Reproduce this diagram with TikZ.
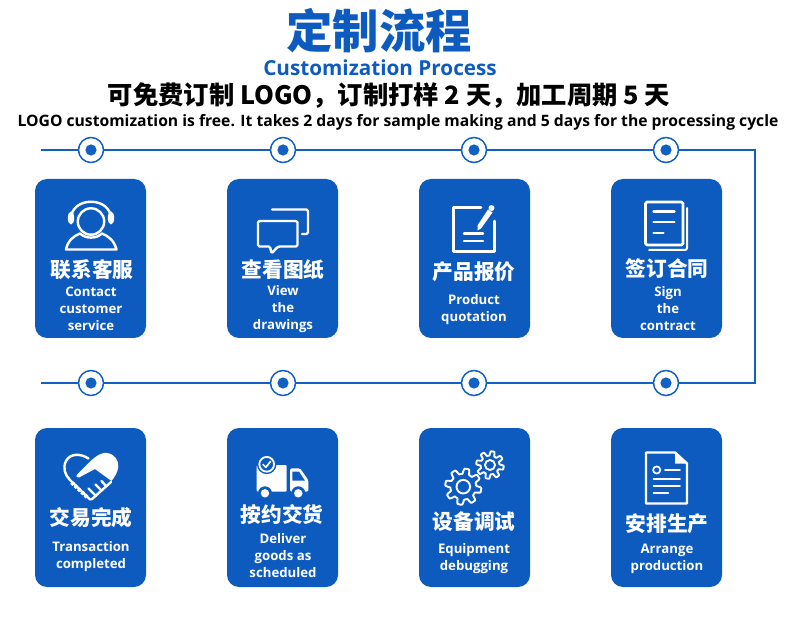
\documentclass[tikz,border=0pt]{standalone}
\usepackage{fontspec}
\setmainfont{Open Sans}
\newfontfamily\cjk{Noto Sans CJK SC}
\definecolor{cardblue}{HTML}{0E5BC0}
\definecolor{lineblue}{HTML}{1160C4}
\tikzset{
  target/.style={circle,draw=lineblue,fill=white,line width=1.5pt,minimum size=25pt,inner sep=0pt,
    path picture={\fill[lineblue] (path picture bounding box.center) circle (5.6pt);}},
  card/.style={fill=cardblue,rounded corners=12pt},
  cardcn/.style={white,font=\cjk\bfseries\fontsize{20.7}{21}\selectfont,inner sep=0pt},
  carden/.style={white,font=\bfseries\fontsize{13.2}{17}\selectfont,align=center,inner sep=0pt},
  icon/.style={draw=white,line width=2.4pt,line cap=round,line join=round},
}
% cog outline: centre x, centre y, mean radius, tooth height
\newcommand{\cogicon}[4]{
  \draw[icon,line width=1.9pt,domain=0:360,samples=161] plot
    ({#1+(#3+#4*max(-1,min(1,2.2*sin(8*\x))))*cos(\x)},{#2+(#3+#4*max(-1,min(1,2.2*sin(8*\x))))*sin(\x)}) -- cycle;
}
\begin{document}
\begin{tikzpicture}[x=1pt,y=-1pt]
  \useasboundingbox (0,0) rectangle (790,628);

  % headings
  \node[inner sep=0pt,text=cardblue,font=\cjk\bfseries\fontsize{46.3}{46}\selectfont] (title) at (379,31) {定制流程};
  \node[inner sep=0pt,text=cardblue,font=\bfseries\fontsize{20.7}{21}\selectfont] (subtitle) at (380,68) {Customization Process};
  \node[inner sep=0pt,font=\cjk\bfseries\fontsize{25.3}{25}\selectfont] (terms) at (389,96) {可免费订制 LOGO，订制打样 2 天，加工周期 5 天};
  \node[inner sep=0pt,font=\bfseries\fontsize{15.7}{16}\selectfont] (termsen) at (398,122) {LOGO customization is free. It takes 2 days for sample making and 5 days for the processing cycle};

  % timeline
  \coordinate (start) at (41,150);
  \coordinate (cornera) at (755,150);
  \coordinate (cornerb) at (755,383);
  \coordinate (stop) at (41,383);
  \foreach \n/\x in {a/91,b/283,c/474,d/666}{
    \node[target] (top\n) at (\x,150) {};
    \node[target] (bot\n) at (\x,383) {};
  }
  \draw[lineblue,line width=2pt] (start) -- (topa) -- (topb) -- (topc) -- (topd) -- (cornera)
    -- (cornerb) -- (botd) -- (botc) -- (botb) -- (bota) -- (stop);

  % cards
  \foreach \x in {35,227,419,611}{
    \fill[card] (\x,179) rectangle ++(111,159);
    \fill[card] (\x,428) rectangle ++(111,159);
  }

  % card texts
  \node[cardcn] (cna) at (92,270) {联系客服};
  \node[carden] (ena) at (91,308.5) {Contact\\customer\\service};
  \node[cardcn] (cnb) at (283,270) {查看图纸};
  \node[carden] (enb) at (283,309.5) {View\\the\\drawings};
  \node[cardcn] (cnc) at (474,272) {产品报价};
  \node[carden] (enc) at (474,309.5) {Product\\quotation};
  \node[cardcn] (cnd) at (667,269) {签订合同};
  \node[carden] (end) at (668,308.5) {Sign\\the\\contract};
  \node[cardcn] (cne) at (91,518) {交易完成};
  \node[carden] (ene) at (91,556.5) {Transaction\\completed};
  \node[cardcn] (cnf) at (282,515) {按约交货};
  \node[carden] (enf) at (283,555.5) {Deliver\\goods as\\scheduled};
  \node[cardcn] (cng) at (474,522) {设备调试};
  \node[carden] (eng) at (474,558.5) {Equipment\\debugging};
  \node[cardcn] (cnh) at (667,524) {安排生产};
  \node[carden] (enh) at (667,558.5) {Arrange\\production};

  % person
  \draw[icon] (91,221.5) circle (13.2);
  \draw[icon] (71,219) .. controls (71,196) and (111,196) .. (111,219);
  \fill[white] (71,218) ellipse (3.2 and 6.5);
  \fill[white] (111,218) ellipse (3.2 and 6.5);
  \draw[icon] (66,249.5) .. controls (68,240) and (74,236) .. (80,233.5)
    .. controls (86,239) and (96,239) .. (102,233.5)
    .. controls (108,236) and (114,240) .. (116.5,249.5) -- cycle;

  % speech bubbles
  \draw[icon,rounded corners=1.5pt] (258,221) -- (297.5,221) -- (297.5,246.5) -- (278,246.5) -- (271.5,253.5)
    -- (270,246.5) -- (258,246.5) -- cycle;
  \draw[icon,rounded corners=1.5pt] (272,209.5) -- (308,209.5) -- (308,234) -- (302,234);

  % quotation sheet
  \draw[icon,line width=2.6pt] (481,207.5) -- (453.5,207.5) -- (453.5,251.5) -- (494.5,251.5) -- (494.5,221);
  \draw[icon] (464,233.5) -- (483,233.5) (464,241) -- (483,241);
  \fill[white] (477.5,225.5) -- (488,209.5) -- (492.5,212.5) -- (481,228.5) -- (477.5,230.5) -- cycle;
  \fill[white] (491.5,208) circle (3);

  % contract pages
  \draw[icon,rounded corners=1.5pt,line width=2.8pt] (645.5,202) rectangle (683,245);
  \draw[icon,rounded corners=2pt,line width=2pt] (687,208) -- (687,250) -- (649,250);
  \draw[icon] (653.5,211.7) -- (674.5,211.7) (653.5,222.3) -- (674.5,222.3) (653.5,233.3) -- (663.5,233.3);

  % handshake heart
  \draw[icon] (88.5,458.5) .. controls (80,453) and (70,453.5) .. (66,461)
    .. controls (62.5,468) and (65,475) .. (70,480) -- (90,499.5);
  \draw[white,line width=3.8pt,dash pattern=on 3pt off 1.6pt] (71.5,482.5) -- (88,498);
  \fill[white] (76.7,475) -- (90,461.5) .. controls (97,455) and (103,452) .. (107,453)
    .. controls (115,454) and (119,461) .. (118.3,467) .. controls (117.5,473) and (114.5,477) .. (111.5,481)
    -- (95,469) -- (79,477.5) .. controls (77,478) and (75.5,476.5) .. (76.7,475) -- cycle;
  \draw[icon] (91.5,499.5) -- (111,482);
  \draw[icon] (88.5,488.5) -- (96,496) (95.5,484.5) -- (101.5,490.5) (101.5,481) -- (106,486);

  % truck
  \fill[white,rounded corners=1pt] (256.7,465) rectangle (286.7,491.7);
  \fill[white,rounded corners=1.5pt] (290,468.3) -- (300,468.3) -- (308.3,480) -- (308.3,491.7) -- (290,491.7) -- cycle;
  \fill[cardblue] (292.3,471.7) -- (299,471.7) -- (305,480.7) -- (292.3,480.7) -- cycle;
  \foreach \x in {265,298.3}{
    \fill[cardblue] (\x,493.3) circle (7);
    \fill[white] (\x,493.3) circle (4.2);
  }
  \fill[cardblue] (266.7,464.3) circle (9.8);
  \draw[icon,line width=1.8pt] (266.7,464.3) circle (7.4);
  \draw[icon,line width=1.7pt] (263,464.5) -- (265.8,467.3) -- (270.5,461.5);

  % cogs
  \cogicon{463.3}{486.7}{15.5}{2.6}
  \draw[icon,line width=1.9pt] (463.3,486.7) circle (6.8);
  \cogicon{490}{465}{11.6}{2.2}
  \draw[icon,line width=1.9pt] (490,465) circle (5);

  % arrangement sheet
  \draw[icon] (646,452.5) -- (675,452.5) -- (687,463.5) -- (687,503.5) -- (646,503.5) -- cycle;
  \fill[white] (675,452.5) -- (687,463.5) -- (675,463.5) -- cycle;
  \draw[icon,line width=1.7pt] (656.7,470) circle (3.6);
  \draw[icon,line width=1.7pt] (665,470) -- (680,470) (653.5,479.3) -- (680,479.3)
    (653.5,486) -- (680,486) (653.5,492.7) -- (668.3,492.7);
\end{tikzpicture}
\end{document}
